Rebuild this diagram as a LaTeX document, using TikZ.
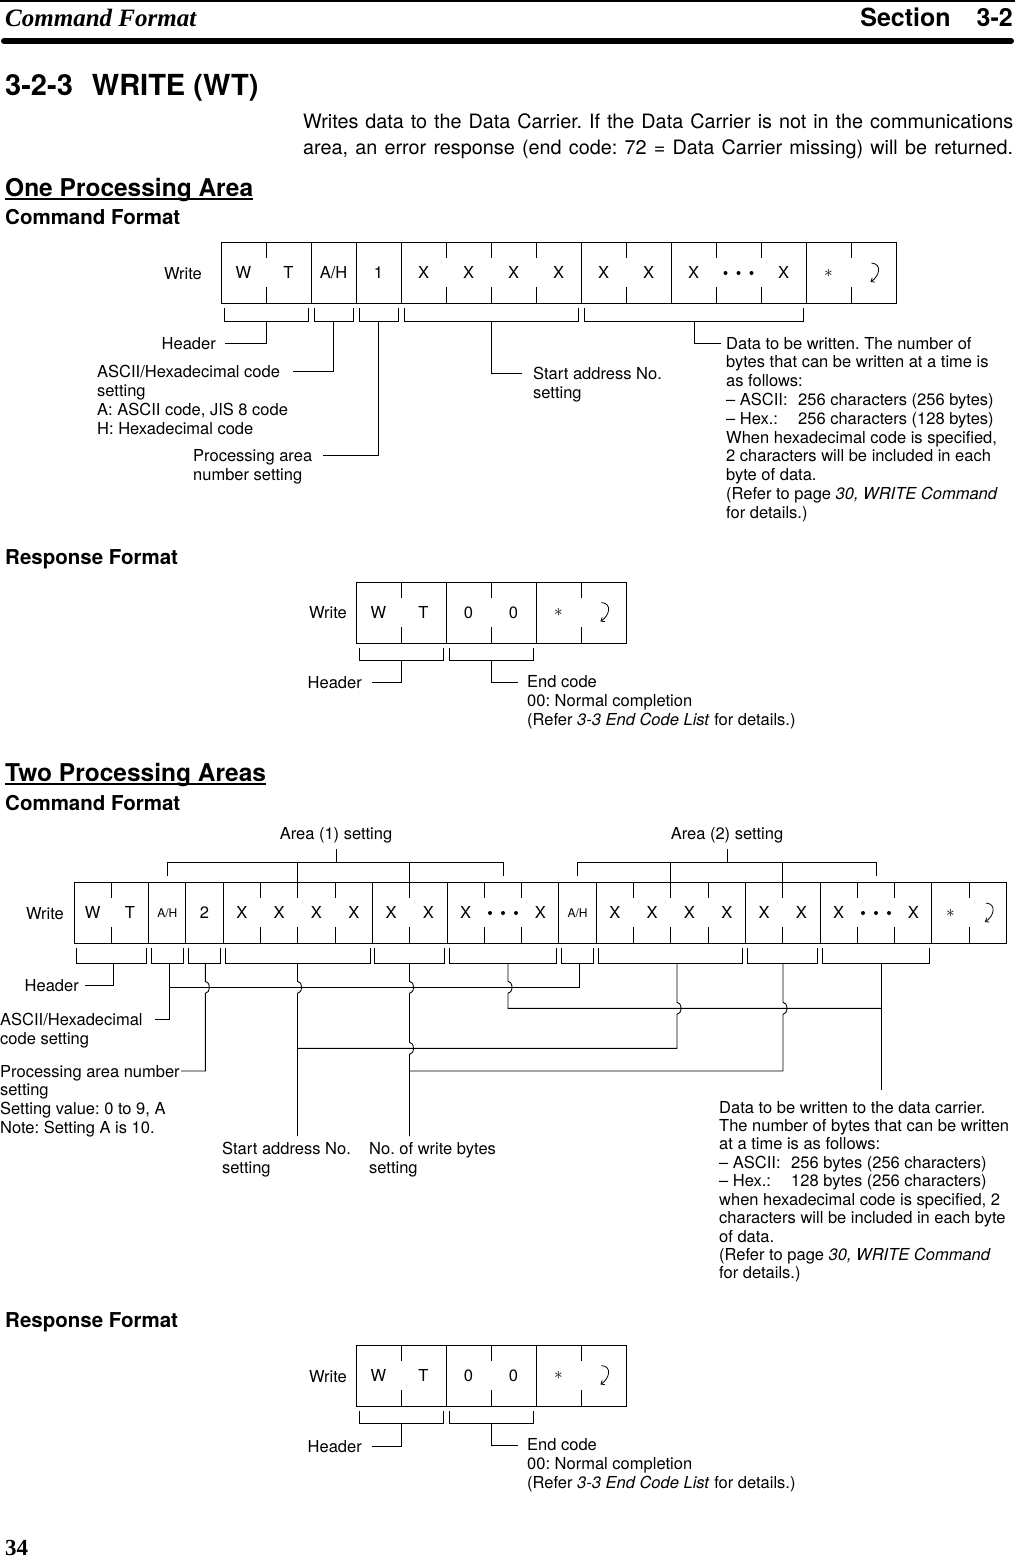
\documentclass[tikz,border=0pt]{standalone}
\usepackage{fontspec}
\setmainfont{TeX Gyre Heros}
\newfontfamily\bodyf{TeX Gyre Heros}
\newfontfamily\hdrserif{Liberation Serif}
\usetikzlibrary{arrows.meta}
\frenchspacing
\newcommand\AH{A/H}
\newcommand\dfont{\fontsize{16.5}{18.8}\selectfont}
\tikzset{
  lbl/.style={font=\dfont, inner sep=0pt, anchor=base west},
  lble/.style={font=\dfont, inner sep=0pt, anchor=base east},
  ctext/.style={font=\fontsize{16.5}{18}\selectfont, inner sep=0pt, text height=11.8pt, text depth=0pt},
  csmall/.style={font=\fontsize{12}{13}\selectfont, inner sep=0pt, text height=8.6pt, text depth=0pt},
  wire/.style={line width=0.9pt},
  head/.style={font=\bfseries\fontsize{20.5}{22}\selectfont, inner sep=0pt, anchor=base west},
  bighead/.style={font=\bfseries\fontsize{24.5}{26}\selectfont, inner sep=0pt, anchor=base west},
}
% #1 x0, #2 w, #3 ytop, #4 ybot, #5 n, #6 majors, #7 minors
\newcommand\cellrow[7]{%
  \draw[wire] (#1,#3) rectangle ({#1+#5*#2},#4);
  \foreach \k in {#6} \draw[wire] ({#1+\k*#2},#3) -- ({#1+\k*#2},#4);
  \foreach \k in {#7} {\draw[wire] ({#1+\k*#2},#3) -- ++(0,16); \draw[wire] ({#1+\k*#2},#4) -- ++(0,-16);}
}
% name, x1, x2, ytop, ybot, leader x
\newcommand\brk[6]{%
  \draw[wire] (#2,#4) -- (#2,#5) -- (#3,#5) -- (#3,#4);
  \coordinate (#1) at (#6,#5);
}
\newcommand\retsym[3]{%
  \coordinate (#1) at (#2,#3);
  \draw[line width=0.8pt, -{Straight Barb[length=3pt,width=5pt]}] ({#2-2},{#3-10}) .. controls +(11,1) and +(9,-6) .. ({#2-3},{#3+9});
}
\newcommand\threedots[3]{%
  \coordinate (#1) at (#2,#3);
  \foreach \d in {-13,0,13} \fill ({#2+\d},#3) circle[radius=2pt];
}
\begin{document}
\begin{tikzpicture}[x=1pt,y=-1pt]
\path[use as bounding box, fill=white] (0,0) rectangle (1015,1558);

% ---------- page header ----------
\draw[line width=2pt] (0,1) -- (1015,1);
\node[font=\hdrserif\bfseries\itshape\fontsize{25}{25}\selectfont, inner sep=0pt, anchor=base west] (ptitle) at (5,26) {Command Format};
\node[font=\bfseries\fontsize{25}{25}\selectfont, inner sep=0pt, anchor=base east] (psec) at (1013,26) {Section\hspace{26pt}3-2};
\draw[line width=6pt, line cap=round] (4,41) -- (1011,41);

\node[font=\bfseries\fontsize{29}{29}\selectfont, inner sep=0pt, anchor=base west] (title) at (5,95) {3-2-3\hspace{19pt}WRITE (WT)};
\node[font=\bodyf\fontsize{19.8}{26}\selectfont, inner sep=0pt, anchor=base west] (body1) at (303,128) {\makebox[710pt][s]{Writes data to the Data Carrier. If the Data Carrier is not in the communications}};
\node[font=\bodyf\fontsize{19.8}{26}\selectfont, inner sep=0pt, anchor=base west] (body2) at (303,154) {\makebox[710pt][s]{area, an error response (end code: 72 = Data Carrier missing) will be returned.}};

% ---------- headings ----------
\node[bighead] (h1) at (5,196) {One Processing Area};
\draw[line width=1.8pt] ([yshift=-3pt]h1.base west) -- ([yshift=-3pt]h1.base east);
\node[head] (h2) at (5,224) {Command Format};
\node[head] (h3) at (5,564) {Response Format};
\node[bighead] (h4) at (5,781) {Two Processing Areas};
\draw[line width=1.8pt] ([yshift=-3pt]h4.base west) -- ([yshift=-3pt]h4.base east);
\node[head] (h5) at (5,810) {Command Format};
\node[head] (h6) at (5,1327) {Response Format};
\node[font=\hdrserif\bfseries\fontsize{23}{23}\selectfont, inner sep=0pt, anchor=base west] (pnum) at (5,1555) {34};

% ---------- One area: command ----------
\cellrow{221}{45}{242}{303}{15}{2,3,4,8,10,13}{1,5,6,7,9,11,12,14}
\foreach \txt/\i in {W/1,T/2,\AH/3,1/4,X/5,X/6,X/7,X/8,X/9,X/10,X/11,X/13}
  \node[ctext] (ra\i) at ({221+45*(\i-0.5)},273) {\txt};
\threedots{radots}{738.5}{273}
\node[font=\fontsize{18}{18}\selectfont, inner sep=0pt] (raast) at (828.5,273) {$\ast$};
\retsym{raret}{873.5}{273}
\node[lble] (wa) at (202,279) {Write};

\brk{bh}{224}{308}{308}{321}{266}
\brk{bah}{314}{353}{308}{321}{333.5}
\brk{bpa}{359}{398}{308}{321}{378.5}
\brk{bsa}{404}{578}{308}{321}{491}
\brk{bda}{584}{803}{308}{321}{694}

\node[lble] (lh) at (216,349) {Header};
\coordinate (lhE) at (225,343);
\draw[wire] (bh) |- (lhE);

\foreach \txt [count=\i] in {{ASCII/Hexadecimal code},{setting},{A: ASCII code, JIS 8 code},{H: Hexadecimal code}}
  \node[lbl] (las\i) at (97,{377+19*(\i-1)}) {\txt};
\coordinate (lasE) at (293,371);
\draw[wire] (bah) |- (lasE);

\foreach \txt [count=\i] in {{Processing area},{number setting}}
  \node[lbl] (lpa\i) at (193,{461+19*(\i-1)}) {\txt};
\coordinate (lpaE) at (323,455);
\draw[wire] (bpa) |- (lpaE);

\foreach \txt [count=\i] in {{Start address No.},{setting}}
  \node[lbl] (lsa\i) at (533,{379+19*(\i-1)}) {\txt};
\coordinate (lsaE) at (522,373);
\draw[wire] (bsa) |- (lsaE);

\foreach \txt [count=\i] in {{Data to be written. The number of},{bytes that can be written at a time is},{as follows:},{\makebox[72pt][l]{– ASCII:}256 characters (256 bytes)},{\makebox[72pt][l]{– Hex.:}256 characters (128 bytes)},{When hexadecimal code is specified,},{2 characters will be included in each},{byte of data.},{(Refer to page \textit{30, WRITE Command}},{for details.)}}
  \node[lbl] (lda\i) at (726,{349+18.8*(\i-1)}) {\txt};
\coordinate (ldaE) at (721,343);
\draw[wire] (bda) |- (ldaE);

% ---------- One area: response ----------
\cellrow{356}{45}{582}{643}{6}{2,4}{1,3,5}
\foreach \txt/\i in {W/1,T/2,0/3,0/4}
  \node[ctext] (rb\i) at ({356+45*(\i-0.5)},612.5) {\txt};
\node[font=\fontsize{18}{18}\selectfont, inner sep=0pt] (rbast) at (558.5,612.5) {$\ast$};
\retsym{rbret}{603.5}{612.5}
\node[lble] (wb) at (347,618) {Write};
\brk{rbh}{359}{443}{648}{660}{401}
\brk{rbe}{449}{533}{648}{660}{491}
\node[lble] (lrh) at (362,688) {Header};
\coordinate (lrhE) at (372,682);
\draw[wire] (rbh) |- (lrhE);
\foreach \txt [count=\i] in {{End code},{00: Normal completion},{(Refer \textit{3-3 End Code List} for details.)}}
  \node[lbl] (lre\i) at (527,{687+19*(\i-1)}) {\txt};
\coordinate (lreE) at (518,682);
\draw[wire] (rbe) |- (lreE);

% ---------- Two areas: command ----------
\cellrow{74}{37.3}{882}{943}{25}{2,3,4,8,10,13,14,18,20,23}{1,5,6,7,9,11,12,15,16,17,19,21,22,24}
\foreach \txt/\i in {W/1,T/2,2/4,X/5,X/6,X/7,X/8,X/9,X/10,X/11,X/13,X/15,X/16,X/17,X/18,X/19,X/20,X/21,X/23}
  \node[ctext] (rc\i) at ({74+37.3*(\i-0.5)},913) {\txt};
\node[csmall] (rc3) at ({74+37.3*2.5},913) {\AH};
\node[csmall] (rc14) at ({74+37.3*13.5},913) {\AH};
\threedots{rcdotsa}{503}{913}
\threedots{rcdotsb}{876}{913}
\node[font=\fontsize{18}{18}\selectfont, inner sep=0pt] (rcast) at ({74+37.3*23.5},913) {$\ast$};
\retsym{rcret}{988}{913}
\node[lble] (wc) at (64,919) {Write};

% area brackets
\draw[wire] (167.3,876) -- (167.3,862) -- (503,862) -- (503,876);
\draw[wire] (297.8,862) -- (297.8,882);
\draw[wire] (409.7,862) -- (409.7,882);
\node[font=\dfont, inner sep=0pt, anchor=base] (ar1) at (336,839) {Area (1) setting};
\coordinate (ar1s) at (336,849);
\draw[wire] (ar1s) -- (336,862);
\draw[wire] (577.5,876) -- (577.5,862) -- (876,862) -- (876,876);
\draw[wire] (670.8,862) -- (670.8,882);
\draw[wire] (782.7,862) -- (782.7,882);
\node[font=\dfont, inner sep=0pt, anchor=base] (ar2) at (727,839) {Area (2) setting};
\coordinate (ar2s) at (727,849);
\draw[wire] (ar2s) -- (727,862);

% lower brackets
\brk{cbh}{76.5}{146}{948}{963}{113}
\brk{cbah}{151}{183.4}{948}{963}{169.3}
\brk{cbpa}{188.4}{220.7}{948}{963}{205.3}
\brk{cbsa}{225.7}{370}{948}{963}{297.5}
\brk{cbnb}{374.9}{444.5}{948}{963}{409.5}
\brk{cbda}{449.5}{556.4}{948}{963}{508}
\brk{cbahb}{561.4}{593.7}{948}{963}{579}
\brk{cbsab}{598.7}{742.9}{948}{963}{677}
\brk{cbnbb}{747.9}{817.5}{948}{963}{783}
\brk{cbdab}{822.5}{929.4}{948}{963}{881}

% labels
\node[lble] (lch) at (79,991) {Header};
\coordinate (lchE) at (85,985);
\draw[wire] (cbh) |- (lchE);

\foreach \txt [count=\i] in {{ASCII/Hexadecimal},{code setting}}
  \node[lbl] (lcas\i) at (0,{1025+19*(\i-1)}) {\txt};
\coordinate (lcasE) at (155,1019);
\draw[wire] (cbah) |- (lcasE);

\foreach \txt [count=\i] in {{Processing area number},{setting},{Setting value: 0 to 9, A},{Note: Setting A is 10.}}
  \node[lbl] (lcpa\i) at (0,{1077+18.8*(\i-1)}) {\txt};
\coordinate (lcpaE) at (181,1071);

\foreach \txt [count=\i] in {{Start address No.},{setting}}
  \node[lbl] (lcsa\i) at (222,{1154+19*(\i-1)}) {\txt};
\coordinate (lcsaE) at (297.5,1136);
\foreach \txt [count=\i] in {{No. of write bytes},{setting}}
  \node[lbl] (lcnb\i) at (369,{1154+19*(\i-1)}) {\txt};
\coordinate (lcnbE) at (409.5,1136);

\foreach \txt [count=\i] in {{Data to be written to the data carrier.},{The number of bytes that can be written},{at a time is as follows:},{\makebox[72pt][l]{– ASCII:}256 bytes (256 characters)},{\makebox[72pt][l]{– Hex.:}128 bytes (256 characters)},{when hexadecimal code is specified, 2},{characters will be included in each byte},{of data.},{(Refer to page \textit{30, WRITE Command}},{for details.)}}
  \node[lbl] (lcda\i) at (719,{1113+18.44*(\i-1)}) {\txt};
\coordinate (lcdaE) at (881,1090);

% connector network with hops
\draw[wire] (cbahb) |- (169.3,987.3);
\draw[wire] (cbpa) -- (205.3,981.3) arc[start angle=-90,end angle=90,x radius=4,y radius=6] -- (205.3,1071) -- (lcpaE);
\draw[wire] (cbsa) -- (297.5,981.3) arc[start angle=-90,end angle=90,x radius=4,y radius=6] -- (lcsaE);
\draw[wire] (cbnb) -- (409.5,981.3) arc[start angle=-90,end angle=90,x radius=4,y radius=6] -- (409.5,1042.3) arc[start angle=-90,end angle=90,x radius=4,y radius=6] -- (lcnbE);
\draw[wire] (cbda) -- (508,981.3) arc[start angle=-90,end angle=90,x radius=4,y radius=6] -- (508,1008.3) -- (881,1008.3);
\draw[wire] (cbsab) -- (677,1002.3) arc[start angle=-90,end angle=90,x radius=4,y radius=6] -- (677,1048.3) -- (297.5,1048.3);
\draw[wire] (cbnbb) -- (783,1002.3) arc[start angle=-90,end angle=90,x radius=4,y radius=6] -- (783,1071) -- (409.5,1071);
\draw[wire] (cbdab) -- (lcdaE);

% ---------- Two areas: response ----------
\cellrow{356}{45}{1345}{1406}{6}{2,4}{1,3,5}
\foreach \txt/\i in {W/1,T/2,0/3,0/4}
  \node[ctext] (rd\i) at ({356+45*(\i-0.5)},1375.5) {\txt};
\node[font=\fontsize{18}{18}\selectfont, inner sep=0pt] (rdast) at (558.5,1375.5) {$\ast$};
\retsym{rdret}{603.5}{1375.5}
\node[lble] (wd) at (347,1382) {Write};
\brk{rdh}{359}{443}{1411}{1423}{401}
\brk{rde}{449}{533}{1411}{1423}{491}
\node[lble] (lrdh) at (362,1452) {Header};
\coordinate (lrdhE) at (372,1446);
\draw[wire] (rdh) |- (lrdhE);
\foreach \txt [count=\i] in {{End code},{00: Normal completion},{(Refer \textit{3-3 End Code List} for details.)}}
  \node[lbl] (lrde\i) at (527,{1450+19*(\i-1)}) {\txt};
\coordinate (lrdeE) at (518,1445);
\draw[wire] (rde) |- (lrdeE);
\end{tikzpicture}
\end{document}
